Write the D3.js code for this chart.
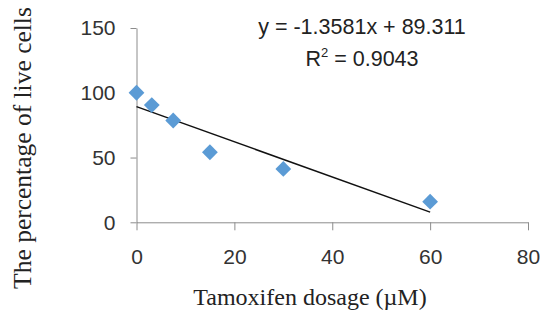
<!DOCTYPE html>
<html>
<head>
<meta charset="utf-8">
<script src="https://cdn.jsdelivr.net/npm/d3@7"></script>
<style>
  body { margin: 0; background: #fff; }
  svg { display: block; }
</style>
</head>
<body>
<div id="chart"></div>
<script>
// data
const doses = [0, 3.125, 7.5, 15, 30, 60]
const liveCells = [100, 90.5, 78.6, 54.1, 41.2, 15.9]
const xTicks = [0, 20, 40, 60, 80]
const yTicks = [0, 50, 100, 150]
const slope = -1.3581
const intercept = 89.311
const equationText = 'y = -1.3581x + 89.311'
const r2Value = '0.9043'

const size = { width: 542, height: 314 }
const plot = { left: 136.5, right: 528, top: 28, bottom: 222.3 }

const svg = d3.select('#chart')
  .append('svg')
  .attr('width', size.width)
  .attr('height', size.height)

const x = d3.scaleLinear().domain([0, 80]).range([plot.left, plot.right])
const y = d3.scaleLinear().domain([0, 150]).range([plot.bottom, plot.top])

const axisColor = '#8c8c8c'
const sansFont = "'Liberation Sans', Arial, sans-serif"
const serifFont = "'Liberation Serif', 'Times New Roman', serif"

// x axis
const xAxis = svg.append('g')
  .attr('transform', `translate(0,${plot.bottom})`)
  .call(d3.axisBottom(x).tickValues(xTicks).tickSize(8).tickSizeOuter(0).tickPadding(19))
xAxis.select('.domain').attr('stroke', axisColor)
xAxis.selectAll('.tick line').attr('stroke', axisColor)
xAxis.selectAll('.tick text')
  .attr('fill', '#333')
  .attr('font-family', sansFont)
  .attr('font-size', 21)

// y axis
const yAxis = svg.append('g')
  .attr('transform', `translate(${plot.left},0)`)
  .call(d3.axisLeft(y).tickValues(yTicks).tickSize(6).tickSizeOuter(0).tickPadding(15))
yAxis.select('.domain').attr('stroke', axisColor)
yAxis.selectAll('.tick line').attr('stroke', axisColor)
yAxis.selectAll('.tick text')
  .attr('fill', '#333')
  .attr('font-family', sansFont)
  .attr('font-size', 21)

// linear trendline
const trendX = [0, d3.max(doses)]
svg.append('line')
  .attr('x1', x(trendX[0]))
  .attr('y1', y(intercept + slope * trendX[0]))
  .attr('x2', x(trendX[1]))
  .attr('y2', y(intercept + slope * trendX[1]))
  .attr('stroke', '#111')
  .attr('stroke-width', 1.5)

// diamond markers
const diamond = d3.symbol().type(d3.symbolSquare).size(125)
svg.append('g')
  .selectAll('path')
  .data(doses.map((d, i) => ({ dose: d, value: liveCells[i] })))
  .enter()
  .append('path')
  .attr('d', diamond)
  .attr('transform', d => `translate(${x(d.dose)},${y(d.value)}) rotate(45)`)
  .attr('fill', '#5b9bd5')

// equation + R²
svg.append('text')
  .attr('x', 362)
  .attr('y', 34)
  .attr('text-anchor', 'middle')
  .attr('font-family', sansFont)
  .attr('font-size', 21.5)
  .attr('fill', '#222')
  .text(equationText)

const r2 = svg.append('text')
  .attr('x', 362)
  .attr('y', 66)
  .attr('text-anchor', 'middle')
  .attr('font-family', sansFont)
  .attr('font-size', 21.5)
  .attr('fill', '#222')
r2.append('tspan').text('R')
r2.append('tspan').attr('font-size', 13).attr('dy', -9).text('2')
r2.append('tspan').attr('dy', 9).text(' = ' + r2Value)

// axis titles
svg.append('text')
  .attr('x', 310)
  .attr('y', 305)
  .attr('text-anchor', 'middle')
  .attr('font-family', serifFont)
  .attr('font-size', 24)
  .attr('fill', '#222')
  .text('Tamoxifen dosage (µM)')

svg.append('text')
  .attr('transform', 'translate(31,148) rotate(-90)')
  .attr('text-anchor', 'middle')
  .attr('font-family', serifFont)
  .attr('font-size', 25.5)
  .attr('fill', '#222')
  .text('The percentage of live cells')
</script>
</body>
</html>
